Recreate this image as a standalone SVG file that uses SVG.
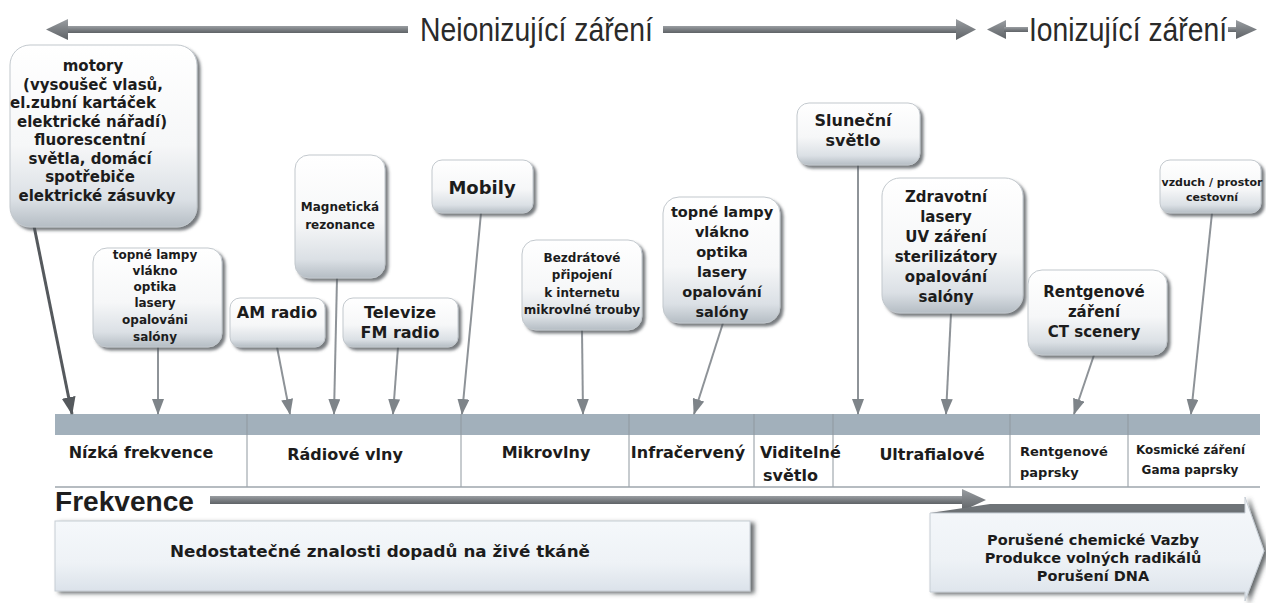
<svg xmlns="http://www.w3.org/2000/svg" width="1266" height="603" viewBox="0 0 1266 603">
<defs>
<style>
.hdr{font-family:"Liberation Sans",Arial,sans-serif;font-size:33px;fill:#2a2a2a}
.nt{font-family:"DejaVu Sans",Verdana,sans-serif;font-weight:bold;fill:#1c1c1c;text-anchor:middle}
.lb{font-family:"DejaVu Sans",Verdana,sans-serif;font-weight:bold;fill:#1c1c1c}
.box{fill:url(#boxg);stroke:#c2c8cd;stroke-width:1;filter:url(#sh)}
.con{stroke:#8e9398;stroke-width:2;fill:none;marker-end:url(#ah)}
.div{stroke:#8f989f;stroke-width:1}
.harrow{fill:url(#hg)}
</style>
<linearGradient id="boxg" x1="0" y1="0" x2="0" y2="1">
<stop offset="0" stop-color="#ffffff"/>
<stop offset="0.55" stop-color="#f6f7f8"/>
<stop offset="0.85" stop-color="#dbe0e5"/>
<stop offset="1" stop-color="#b5bdc4"/>
</linearGradient>
<linearGradient id="hg" x1="0" y1="0" x2="0" y2="1">
<stop offset="0" stop-color="#9a9ea2"/>
<stop offset="0.5" stop-color="#7b7f83"/>
<stop offset="1" stop-color="#5f6367"/>
</linearGradient>
<linearGradient id="bg2" x1="0" y1="0" x2="0" y2="1">
<stop offset="0" stop-color="#f5f8fb"/>
<stop offset="0.6" stop-color="#eef2f6"/>
<stop offset="1" stop-color="#dbe2ea"/>
</linearGradient>
<filter id="sh" x="-10%" y="-10%" width="130%" height="130%">
<feDropShadow dx="3" dy="3" stdDeviation="1.8" flood-color="#4a4f54" flood-opacity="0.75"/>
</filter>
<filter id="sh2" x="-5%" y="-10%" width="115%" height="130%">
<feDropShadow dx="4" dy="2" stdDeviation="2" flood-color="#44494e" flood-opacity="0.8"/>
</filter>
<marker id="ah" viewBox="0 0 16 12" markerWidth="16" markerHeight="12" refX="15" refY="6" orient="auto" markerUnits="userSpaceOnUse">
<path d="M0,0 L16,6 L0,12 z" fill="#7e8489"/>
</marker>
<marker id="ahd" viewBox="0 0 18 14" markerWidth="18" markerHeight="14" refX="17" refY="7" orient="auto" markerUnits="userSpaceOnUse">
<path d="M0,0 L18,7 L0,14 z" fill="#55595d"/>
</marker>
</defs>
<rect width="1266" height="603" fill="#ffffff"/>

<g id="header">
<rect class="harrow" x="66" y="26" width="342" height="7"/>
<polygon class="harrow" points="46,29.5 68,19 68,40"/>
<text class="hdr" x="420" y="41" textLength="233" lengthAdjust="spacingAndGlyphs">Neionizující záření</text>
<rect class="harrow" x="663" y="26" width="296" height="7"/>
<polygon class="harrow" points="956,19 976,29.5 956,40"/>
<polygon class="harrow" points="987,29.5 1006,20 1006,39"/>
<rect class="harrow" x="1004" y="27" width="24" height="5"/>
<text class="hdr" x="1029" y="41" textLength="198" lengthAdjust="spacingAndGlyphs">Ionizující záření</text>
<rect class="harrow" x="1228" y="27" width="10" height="5"/>
<polygon class="harrow" points="1236,20 1257,29.5 1236,39"/>
</g>

<g id="spectrum">
<rect x="55" y="414" width="1205" height="21" fill="#a2b0bb"/>
<line class="div" x1="247" y1="414" x2="247" y2="487"/>
<line class="div" x1="461" y1="414" x2="461" y2="487"/>
<line class="div" x1="629" y1="414" x2="629" y2="487"/>
<line class="div" x1="754" y1="414" x2="754" y2="487"/>
<line class="div" x1="833" y1="414" x2="833" y2="487"/>
<line class="div" x1="1010" y1="414" x2="1010" y2="487"/>
<line class="div" x1="1128" y1="414" x2="1128" y2="487"/>
<line x1="55" y1="487" x2="1260" y2="487" stroke="#9ea6ad" stroke-width="1.5"/>
<text class="lb" x="141" y="458" font-size="16" text-anchor="middle">Nízká frekvence</text>
<text class="lb" x="345" y="460" font-size="16" text-anchor="middle">Rádiové vlny</text>
<text class="lb" x="546" y="458" font-size="16" text-anchor="middle">Mikrovlny</text>
<text class="lb" x="688" y="458" font-size="16" text-anchor="middle">Infračervený</text>
<text class="lb" x="760" y="458" font-size="16">Viditelné</text>
<text class="lb" x="763" y="481" font-size="16">světlo</text>
<text class="lb" x="932" y="460" font-size="16" text-anchor="middle">Ultrafialové</text>
<text class="lb" x="1020" y="456" font-size="13">Rentgenové</text>
<text class="lb" x="1020" y="477" font-size="13">paprsky</text>
<text class="lb" x="1136" y="454" font-size="12" textLength="109" lengthAdjust="spacingAndGlyphs">Kosmické záření</text>
<text class="lb" x="1190" y="474" font-size="12" text-anchor="middle">Gama paprsky</text>
</g>

<g id="connectors">
<line x1="34" y1="226" x2="72" y2="414" stroke="#55595d" stroke-width="3" marker-end="url(#ahd)"/>
<line class="con" x1="158" y1="347" x2="158" y2="414"/>
<line class="con" x1="277" y1="347" x2="290" y2="414"/>
<line class="con" x1="337" y1="278" x2="334" y2="414"/>
<line class="con" x1="398" y1="347" x2="393" y2="414"/>
<line class="con" x1="481" y1="213" x2="462" y2="414"/>
<line class="con" x1="582" y1="330" x2="583" y2="414"/>
<line class="con" x1="723" y1="323" x2="694" y2="414"/>
<line class="con" x1="858" y1="165" x2="858" y2="414"/>
<line class="con" x1="951" y1="313" x2="946" y2="414"/>
<line class="con" x1="1094" y1="355" x2="1074" y2="414"/>
<line class="con" x1="1212" y1="213" x2="1191" y2="414"/>
</g>

<g id="n-motory">
<rect class="box" x="10" y="45" width="187" height="182" rx="20"/>
<text class="nt" font-size="15"><tspan x="93" y="71">motory</tspan><tspan x="93" y="89.5">(vysoušeč vlasů,</tspan><tspan x="83" y="108">el.zubní kartáček</tspan><tspan x="92" y="126.5">elektrické nářadí)</tspan><tspan x="90" y="145">fluorescentní</tspan><tspan x="90" y="163.5">světla, domácí</tspan><tspan x="90" y="182">spotřebiče</tspan><tspan x="97" y="200.5">elektrické zásuvky</tspan></text>
</g>

<g id="n-topne1">
<rect class="box" x="93" y="248" width="129" height="99" rx="14"/>
<text class="nt" font-size="12"><tspan x="155" y="259">topné lampy</tspan><tspan x="155" y="275">vlákno</tspan><tspan x="155" y="291">optika</tspan><tspan x="155" y="307">lasery</tspan><tspan x="155" y="324">opalováni</tspan><tspan x="155" y="341">salóny</tspan></text>
</g>

<g id="n-am">
<rect class="box" x="230" y="298" width="95" height="49" rx="10"/>
<text class="nt" font-size="16" x="277" y="318">AM radio</text>
</g>

<g id="n-mr">
<rect class="box" x="295" y="155" width="90" height="123" rx="14"/>
<text class="nt" font-size="12"><tspan x="340" y="211">Magnetická</tspan><tspan x="340" y="229">rezonance</tspan></text>
</g>

<g id="n-tv">
<rect class="box" x="343" y="298" width="115" height="49" rx="10"/>
<text class="nt" font-size="16"><tspan x="400" y="318">Televize</tspan><tspan x="400" y="338">FM radio</tspan></text>
</g>

<g id="n-mobily">
<rect class="box" x="432" y="160" width="101" height="53" rx="10"/>
<text class="nt" font-size="18" x="482" y="194">Mobily</text>
</g>

<g id="n-wifi">
<rect class="box" x="522" y="240" width="120" height="90" rx="14"/>
<text class="nt" font-size="12"><tspan x="582" y="262">Bezdrátové</tspan><tspan x="582" y="279">připojení</tspan><tspan x="582" y="297">k internetu</tspan><tspan x="582" y="314">mikrovlné trouby</tspan></text>
</g>

<g id="n-topne2">
<rect class="box" x="663" y="197" width="117" height="126" rx="16"/>
<text class="nt" font-size="14.5"><tspan x="722" y="217">topné lampy</tspan><tspan x="722" y="237">vlákno</tspan><tspan x="722" y="257">optika</tspan><tspan x="722" y="277">lasery</tspan><tspan x="722" y="297">opalování</tspan><tspan x="722" y="317">salóny</tspan></text>
</g>

<g id="n-slunce">
<rect class="box" x="797" y="103" width="123" height="62" rx="12"/>
<text class="nt" font-size="16"><tspan x="853" y="126">Sluneční</tspan><tspan x="853" y="146">světlo</tspan></text>
</g>

<g id="n-uv">
<rect class="box" x="882" y="178" width="141" height="135" rx="18"/>
<text class="nt" font-size="15"><tspan x="946" y="202">Zdravotní</tspan><tspan x="946" y="222">lasery</tspan><tspan x="946" y="242">UV záření</tspan><tspan x="946" y="262">sterilizátory</tspan><tspan x="946" y="282">opalování</tspan><tspan x="946" y="302">salóny</tspan></text>
</g>

<g id="n-rtg">
<rect class="box" x="1028" y="270" width="139" height="85" rx="14"/>
<text class="nt" font-size="15"><tspan x="1094" y="297">Rentgenové</tspan><tspan x="1094" y="317">záření</tspan><tspan x="1094" y="337">CT scenery</tspan></text>
</g>

<g id="n-vzduch">
<rect class="box" x="1160" y="160" width="101" height="53" rx="10"/>
<text class="nt" font-size="11"><tspan x="1212" y="186">vzduch / prostor</tspan><tspan x="1212" y="201">cestovní</tspan></text>
</g>

<g id="frekvence">
<text x="55" y="511" font-family="Liberation Sans, Arial, sans-serif" font-weight="bold" font-size="28" fill="#1e1e1e" textLength="139" lengthAdjust="spacingAndGlyphs">Frekvence</text>
<rect class="harrow" x="210" y="496" width="754" height="8"/>
<polygon class="harrow" points="962,489 986,500 962,511"/>
</g>

<g id="n-unknown">
<rect x="55" y="521" width="695" height="70" fill="url(#bg2)" stroke="#c6cdd4" filter="url(#sh2)"/>
<text class="nt" font-size="15" x="380" y="557" textLength="420" lengthAdjust="spacingAndGlyphs">Nedostatečné znalosti dopadů na živé tkáně</text>
</g>

<g id="n-ionizing">
<polygon points="990,504 1245,504 1245,513 930,513" fill="#6f7478"/>
<polygon points="930,513 1245,513 1245,497 1264,551 1245,601 1245,592 930,592" fill="url(#bg2)" stroke="#c6cdd4" filter="url(#sh2)"/>
<text class="nt" font-size="14.5"><tspan x="1093" y="545">Porušené chemické Vazby</tspan><tspan x="1093" y="563">Produkce volných radikálů</tspan><tspan x="1093" y="581">Porušení DNA</tspan></text>
</g>
</svg>
